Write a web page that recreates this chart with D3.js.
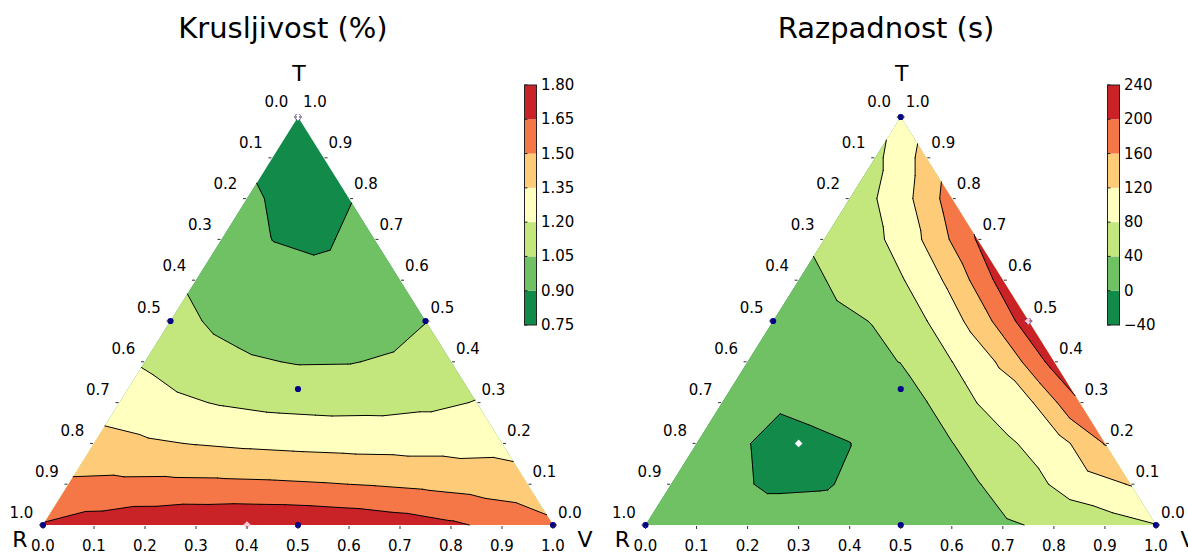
<!DOCTYPE html>
<html>
<head>
<meta charset="utf-8">
<script src="https://cdn.jsdelivr.net/npm/d3@7"></script>
<style>
  body { margin: 0; background: #fff; }
  svg { display: block; }
  text { font-family: "DejaVu Sans", sans-serif; fill: #000; }
</style>
</head>
<body>
<svg id="chart" width="1188" height="553"></svg>
<script>
// Response surfaces sampled on a simplex lattice with step 0.1.
// Each row holds one T fraction (0.0 at the R–V base up to 1.0 at the T apex);
// entries run over the V fraction 0.0 … 1.0 − T, the R fraction is the remainder.
const friabilityGrid = [
  [1.660, 1.713, 1.751, 1.774, 1.783, 1.778, 1.757, 1.722, 1.673, 1.609, 1.530],
  [1.523, 1.529, 1.531, 1.528, 1.521, 1.508, 1.491, 1.469, 1.442, 1.410],
  [1.398, 1.368, 1.344, 1.324, 1.310, 1.300, 1.296, 1.296, 1.302],
  [1.286, 1.230, 1.189, 1.162, 1.151, 1.154, 1.172, 1.205],
  [1.186, 1.114, 1.066, 1.042, 1.044, 1.070, 1.120],
  [1.099, 1.020, 0.975, 0.964, 0.988, 1.047],
  [1.025, 0.948, 0.916, 0.928, 0.985],
  [0.963, 0.899, 0.890, 0.934],
  [0.914, 0.873, 0.896],
  [0.877, 0.869],
  [0.853]
];

const disintegrationGrid = [
  [18, 13, 10, 10, 12, 17, 24, 35, 47, 62, 79],
  [17, 5, -3, -2, 8, 22, 38, 67, 100, 122],
  [16, 0.5, -8, -0.5, 20, 39, 72, 100, 162],
  [18, 3, 10, 20, 39, 80.5, 112, 197],
  [22, 26, 32, 40.5, 79.5, 127, 215],
  [27, 34, 41, 79, 135, 222],
  [33, 46, 76, 130, 216],
  [45, 70, 125, 203],
  [55, 102, 178],
  [70, 134],
  [93]
];

// Contour levels and their colour-bar labels
const friabilityLevels = [0.75, 0.90, 1.05, 1.20, 1.35, 1.50, 1.65, 1.80];
const friabilityLevelLabels = ["0.75", "0.90", "1.05", "1.20", "1.35", "1.50", "1.65", "1.80"];
const disintegrationLevels = [-40, 0, 40, 80, 120, 160, 200, 240];
const disintegrationLevelLabels = ["\u221240", "0", "40", "80", "120", "160", "200", "240"];

// One colour per band, lowest band first
const bandColors = ["#128a49", "#6fc164", "#c3e67d", "#ffffbf", "#fecb79", "#f57647", "#c92227"];

// Axis tick values and their labels
const axisTicks = [0.0, 0.1, 0.2, 0.3, 0.4, 0.5, 0.6, 0.7, 0.8, 0.9, 1.0];
const axisTickLabels = ["0.0", "0.1", "0.2", "0.3", "0.4", "0.5", "0.6", "0.7", "0.8", "0.9", "1.0"];

// Mixture design points as [V, T] (simplex centroid design)
const designPoints = [[0, 0], [1, 0], [0, 1], [0.5, 0], [0, 0.5], [0.5, 0.5], [1 / 3, 1 / 3]];

// Optima as [V, T]
const friabilityMinimum = [0, 1];
const friabilityMaximum = [0.4, 0];
const disintegrationMinimum = [0.2, 0.2];
const disintegrationMaximum = [0.5, 0.5];

const panels = [
  {
    title: "Krusljivost (%)", grid: friabilityGrid,
    levels: friabilityLevels, levelLabels: friabilityLevelLabels,
    minimum: friabilityMinimum, maximum: friabilityMaximum,
    left: 43, right: 553, titleX: 283, barX: 524.5
  },
  {
    title: "Razpadnost (s)", grid: disintegrationGrid,
    levels: disintegrationLevels, levelLabels: disintegrationLevelLabels,
    minimum: disintegrationMinimum, maximum: disintegrationMaximum,
    left: 645.5, right: 1156, titleX: 886, barX: 1107.5
  }
];

const svg = d3.select("#chart");
const baseY = 525, apexY = 117;
const barTop = 85, barBottom = 325, barWidth = 12;
const STEPS = friabilityGrid.length - 1;

// Keep only the part of a polygon where the surface value is >= level
function clipAbove(poly, level) {
  const out = [];
  for (let k = 0; k < poly.length; k++) {
    const a = poly[k], b = poly[(k + 1) % poly.length];
    const ina = a.f >= level, inb = b.f >= level;
    if (ina) out.push(a);
    if (ina !== inb) {
      const s = (level - a.f) / (b.f - a.f);
      out.push({ v: a.v + s * (b.v - a.v), t: a.t + s * (b.t - a.t), f: level });
    }
  }
  return out;
}

// Segment where the linear surface over one triangle equals level
function isoSegment(tri, level) {
  const pts = [];
  for (let k = 0; k < 3; k++) {
    const a = tri[k], b = tri[(k + 1) % 3];
    if ((a.f >= level) !== (b.f >= level)) {
      const s = (level - a.f) / (b.f - a.f);
      pts.push({ v: a.v + s * (b.v - a.v), t: a.t + s * (b.t - a.t) });
    }
  }
  return pts.length === 2 ? pts : null;
}

panels.forEach(p => {
  const g = svg.append("g");
  const x = d3.scaleLinear().domain([0, 1]).range([p.left, p.right]);
  const y = d3.scaleLinear().domain([0, 1]).range([baseY, apexY]);
  const proj = (v, t) => [x(v + t / 2), y(t)];

  // lattice triangles, all with the same winding
  const node = (i, j) => ({ v: i / STEPS, t: j / STEPS, f: p.grid[j][i] });
  const triangles = [];
  for (let j = 0; j < STEPS; j++) {
    for (let i = 0; i < STEPS - j; i++) {
      triangles.push([node(i, j), node(i + 1, j), node(i, j + 1)]);
      if (i < STEPS - j - 1) triangles.push([node(i + 1, j), node(i + 1, j + 1), node(i, j + 1)]);
    }
  }

  const polyPath = poly => "M" + poly.map(q => proj(q.v, q.t).join(",")).join("L") + "Z";

  // filled bands: each region f >= level painted over the previous one
  bandColors.forEach((color, k) => {
    let d = "";
    triangles.forEach(tri => {
      const poly = clipAbove(tri, p.levels[k]);
      if (poly.length >= 3) d += polyPath(poly);
    });
    g.append("path").attr("d", d).attr("fill", color).attr("stroke", "none");
  });

  // contour lines
  p.levels.slice(1, -1).forEach(level => {
    let d = "";
    triangles.forEach(tri => {
      const seg = isoSegment(tri, level);
      if (seg) d += "M" + proj(seg[0].v, seg[0].t).join(",") + "L" + proj(seg[1].v, seg[1].t).join(",");
    });
    g.append("path").attr("d", d).attr("fill", "none")
      .attr("stroke", "#000").attr("stroke-width", 1).attr("stroke-linecap", "round");
  });

  // design points
  g.selectAll("circle.design").data(designPoints).enter().append("circle")
    .attr("class", "design")
    .attr("cx", d => proj(d[0], d[1])[0]).attr("cy", d => proj(d[0], d[1])[1])
    .attr("r", 3.1).attr("fill", "#00008b");

  // optimum markers
  const diamond = (c, r) => `M${c[0]},${c[1] - r}L${c[0] + r},${c[1]}L${c[0]},${c[1] + r}L${c[0] - r},${c[1]}Z`;
  g.append("path").attr("d", diamond(proj(p.maximum[0], p.maximum[1]), 3.8)).attr("fill", "#ffc8d4");
  g.append("path").attr("d", diamond(proj(p.minimum[0], p.minimum[1]), 3.8)).attr("fill", "#ffffff");

  // axis ticks and labels
  const tickG = g.append("g").attr("stroke", "#333").attr("stroke-width", 1);
  const labelG = g.append("g").attr("font-size", "15px");
  axisTicks.forEach((val, k) => {
    // bottom axis: V fraction along R → V
    const b = proj(val, 0);
    tickG.append("line").attr("x1", b[0]).attr("y1", b[1] + 1).attr("x2", b[0]).attr("y2", b[1] + 4);
    labelG.append("text").attr("x", b[0]).attr("y", b[1] + 20.5)
      .attr("text-anchor", "middle").attr("dominant-baseline", "central").text(axisTickLabels[k]);
    // right axis: T fraction along V → T
    const r = proj(1 - val, val);
    tickG.append("line").attr("x1", r[0] + 1).attr("y1", r[1]).attr("x2", r[0] + 4).attr("y2", r[1]);
    labelG.append("text").attr("x", r[0] + 17).attr("y", r[1] - 12 - 3 * val)
      .attr("text-anchor", "middle").attr("dominant-baseline", "central").text(axisTickLabels[k]);
    // left axis: R fraction along T → R
    const l = proj(0, 1 - val);
    tickG.append("line").attr("x1", l[0] - 1).attr("y1", l[1]).attr("x2", l[0] - 4).attr("y2", l[1]);
    labelG.append("text").attr("x", l[0] - 21.5).attr("y", l[1] - 12 - 3 * (1 - val))
      .attr("text-anchor", "middle").attr("dominant-baseline", "central").text(axisTickLabels[k]);
  });

  // corner names
  const apex = proj(0, 1);
  g.append("text").attr("x", apex[0] + 1).attr("y", 81).attr("text-anchor", "middle")
    .attr("font-size", "22px").text("T");
  g.append("text").attr("x", x(0) - 23).attr("y", 547).attr("text-anchor", "middle")
    .attr("font-size", "22px").text("R");
  g.append("text").attr("x", x(1) + 32).attr("y", 547).attr("text-anchor", "middle")
    .attr("font-size", "22px").text("V");

  // title
  g.append("text").attr("x", p.titleX).attr("y", 38).attr("text-anchor", "middle")
    .attr("font-size", "29px").text(p.title);

  // colour bar
  const cb = d3.scaleLinear().domain([p.levels[0], p.levels[p.levels.length - 1]]).range([barBottom, barTop]);
  const bar = g.append("g");
  bandColors.forEach((color, k) => {
    bar.append("rect").attr("x", p.barX).attr("width", barWidth)
      .attr("y", cb(p.levels[k + 1])).attr("height", cb(p.levels[k]) - cb(p.levels[k + 1]))
      .attr("fill", color);
  });
  bar.append("rect").attr("x", p.barX).attr("y", barTop).attr("width", barWidth)
    .attr("height", barBottom - barTop).attr("fill", "none").attr("stroke", "#222").attr("stroke-width", 1);
  p.levels.forEach((level, k) => {
    bar.append("line").attr("x1", p.barX).attr("x2", p.barX + 3)
      .attr("y1", cb(level)).attr("y2", cb(level)).attr("stroke", "#222").attr("stroke-width", 1);
    bar.append("text").attr("x", p.barX + barWidth + 4.5).attr("y", cb(level))
      .attr("dominant-baseline", "central").attr("font-size", "15px").text(p.levelLabels[k]);
  });
});
</script>
</body>
</html>
